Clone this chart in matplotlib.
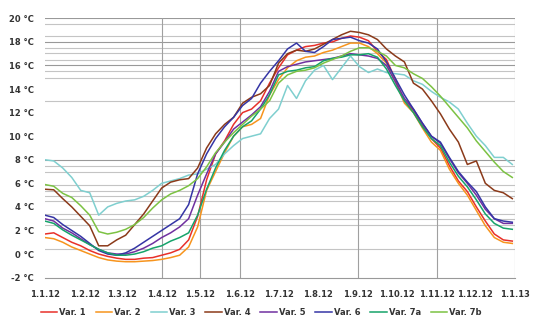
import matplotlib.pyplot as plt

# day of year (2012), sampled weekly
days = list(range(0, 365, 7))

var1 = [1.7, 1.8, 1.4, 1.0, 0.7, 0.3, 0.0, -0.2, -0.35, -0.45, -0.45, -0.35, -0.3, -0.1,
        0.1, 0.4, 1.2, 3.2, 6.3, 8.5, 9.6, 11.0, 12.0, 12.3, 13.0, 14.5, 15.8, 16.9,
        17.3, 17.6, 17.7, 17.9, 18.0, 18.3, 18.5, 18.4, 18.1, 17.2, 16.5, 14.8, 13.0, 12.2,
        10.9, 9.8, 9.0, 7.5, 6.2, 5.3, 4.0, 2.8, 1.7, 1.2, 1.1]
var2 = [1.4, 1.3, 1.0, 0.6, 0.3, 0.0, -0.3, -0.5, -0.6, -0.65, -0.65, -0.6, -0.55, -0.45,
        -0.3, -0.1, 0.6, 2.3, 5.4, 7.0, 8.6, 10.0, 10.8, 11.0, 11.5, 13.5, 14.8, 15.8,
        16.4, 16.7, 16.8, 17.1, 17.3, 17.6, 17.9, 17.9, 17.6, 17.0, 16.2, 14.6, 12.8, 12.0,
        10.7, 9.5, 8.8, 7.2, 6.0, 5.0, 3.7, 2.4, 1.4, 1.0, 0.9]
var3 = [8.0, 7.9, 7.3, 6.5, 5.4, 5.2, 3.3, 4.0, 4.3, 4.5, 4.6, 4.9, 5.4, 6.0,
        6.2, 6.4, 6.7, 6.8, 7.2, 7.6, 8.5, 9.2, 9.8, 10.0, 10.2, 11.5, 12.3, 14.3,
        13.2, 14.7, 15.6, 16.0, 14.8, 15.8, 16.8, 15.9, 15.4, 15.7, 15.4, 15.3, 15.2, 14.7,
        14.4, 13.8, 13.3, 12.9, 12.3, 11.1, 10.0, 9.2, 8.2, 8.2, 7.6]
var4 = [5.5, 5.45, 4.7, 4.0, 3.2, 2.4, 0.7, 0.7, 1.2, 1.6, 2.5, 3.4, 4.5, 5.6,
        6.1, 6.3, 6.4, 7.3, 9.0, 10.2, 11.0, 11.6, 12.8, 13.3, 13.6, 14.3, 16.2, 17.0,
        17.3, 17.2, 17.4, 17.8, 18.2, 18.6, 18.9, 18.8, 18.6, 18.2, 17.4, 16.8, 16.3, 14.5,
        14.0, 13.0, 11.9, 10.6, 9.5, 7.6, 7.9, 6.0, 5.4, 5.2, 4.7]
var5 = [3.0, 2.8, 2.2, 1.8, 1.3, 0.8, 0.4, 0.1, 0.0, 0.0, 0.2, 0.5, 0.9, 1.4,
        1.8, 2.3, 3.0, 5.0, 6.8, 8.5, 9.5, 10.6, 11.2, 11.8, 12.5, 13.8, 15.5, 15.9,
        16.1, 16.3, 16.4, 16.5, 16.6, 16.8, 17.0, 16.9, 16.8, 16.6, 16.0, 14.6, 13.2, 12.3,
        11.1, 10.0, 9.4, 8.1, 6.9, 6.0, 5.0, 3.8, 3.0, 2.6, 2.6]
var6 = [3.3, 3.1, 2.5, 2.0, 1.5, 0.9, 0.3, 0.0, -0.1, 0.1, 0.5, 1.0, 1.5, 2.0,
        2.5, 3.0, 4.2, 6.8, 8.5, 9.8, 10.8, 11.6, 12.6, 13.2, 14.5, 15.5, 16.4, 17.4,
        17.9, 17.2, 17.1, 17.6, 18.2, 18.3, 18.4, 18.1, 17.9, 17.4, 16.3, 14.9, 13.5, 12.3,
        11.1, 10.0, 9.5, 8.2, 7.0, 6.1, 5.3, 4.0, 3.0, 2.8, 2.7]
var7a = [2.8, 2.6, 2.05, 1.6, 1.2, 0.8, 0.4, 0.1, -0.1, -0.1, 0.0, 0.2, 0.5, 0.7,
         1.1, 1.4, 1.8, 3.3, 5.5, 7.3, 8.8, 10.0, 10.8, 11.3, 12.3, 13.5, 15.2, 15.5,
         15.6, 15.8, 15.9, 16.4, 16.6, 16.7, 16.9, 16.9, 17.0, 16.7, 15.7, 14.3, 13.0, 12.0,
         10.8, 9.8, 9.2, 7.8, 6.6, 5.7, 4.6, 3.4, 2.6, 2.2, 2.1]
var7b = [5.9, 5.75, 5.15, 4.8, 4.1, 3.3, 1.9, 1.7, 1.85, 2.1, 2.5, 3.1, 3.9, 4.6,
         5.1, 5.4, 5.8, 6.4, 7.4, 8.6, 9.5, 10.3, 11.0, 11.7, 12.3, 13.0, 14.5, 15.2,
         15.5, 15.6, 15.8, 16.2, 16.5, 16.8, 17.2, 17.5, 17.5, 17.2, 16.8, 16.0, 15.8, 15.3,
         14.9, 14.2, 13.4, 12.5, 11.6, 10.7, 9.6, 8.7, 7.8, 7.0, 6.5]

series = [var1, var2, var3, var4, var5, var6, var7a, var7b]
names = ['Var. 1', 'Var. 2', 'Var. 3', 'Var. 4', 'Var. 5', 'Var. 6', 'Var. 7a', 'Var. 7b']
colors = ['#e8302a', '#f7941d', '#7fcfcf', '#8b3a1a', '#7030a0', '#3535a5', '#16a36a', '#7cc243']

month_days = [0, 31, 60, 91, 121, 152, 182, 213, 244, 274, 305, 335, 366]
month_labels = ['1.1.12', '1.2.12', '1.3.12', '1.4.12', '1.5.12', '1.6.12', '1.7.12',
                '1.8.12', '1.9.12', '1.10.12', '1.11.12', '1.12.12', '1.1.13']
vgrid_days = [91, 121, 152, 244, 305, 366]
hgrid_vals = [20, 19.5, 18.5, 18, 17.5, 17.05, 16.5, 16, 15.5, 14.9, 13,
              8, 7.45, 6.95, 5.9, 5.35, 4.95, 4.5, 3.4, 2.95, 2.45, 0.45]
yticks = list(range(-2, 21, 2))

fig = plt.figure(figsize=(5.33, 3.27), dpi=100)
ax = fig.add_axes([0.084, 0.151, 0.882, 0.793])

for v in hgrid_vals:
    c = '#999999' if v in (20, 18, 16, 8) else '#c4c4c4'
    ax.axhline(v, color=c, lw=0.8, zorder=1)
for d in vgrid_days:
    ax.axvline(d, color='#a0a0a0', lw=0.8, zorder=1)

for vals, name, col in zip(series, names, colors):
    ax.plot(days, vals, color=col, lw=1.1, label=name, zorder=3)

ax.set_xlim(0, 366)
ax.set_ylim(-2, 20)
ax.set_yticks(yticks)
ax.set_yticklabels([f'{t} °C' for t in yticks])
ax.set_xticks(month_days)
ax.set_xticklabels(month_labels)
for s in ['top', 'right', 'left']:
    ax.spines[s].set_visible(False)
ax.spines['bottom'].set_color('#999999')
ax.spines['bottom'].set_linewidth(0.8)
ax.tick_params(axis='both', length=0, labelsize=6, colors='#333333')
ax.tick_params(axis='y', pad=8)
ax.tick_params(axis='x', pad=9)
for lab in ax.get_xticklabels() + ax.get_yticklabels():
    lab.set_fontweight('bold')

fig.legend(loc='center', bbox_to_anchor=(0.49, 0.045), ncol=8, frameon=False,
           handlelength=2.0, handletextpad=0.2, columnspacing=1.2,
           prop={'size': 6, 'weight': 'bold'}, labelcolor='#333333')

fig.savefig('out.png', dpi=100)
